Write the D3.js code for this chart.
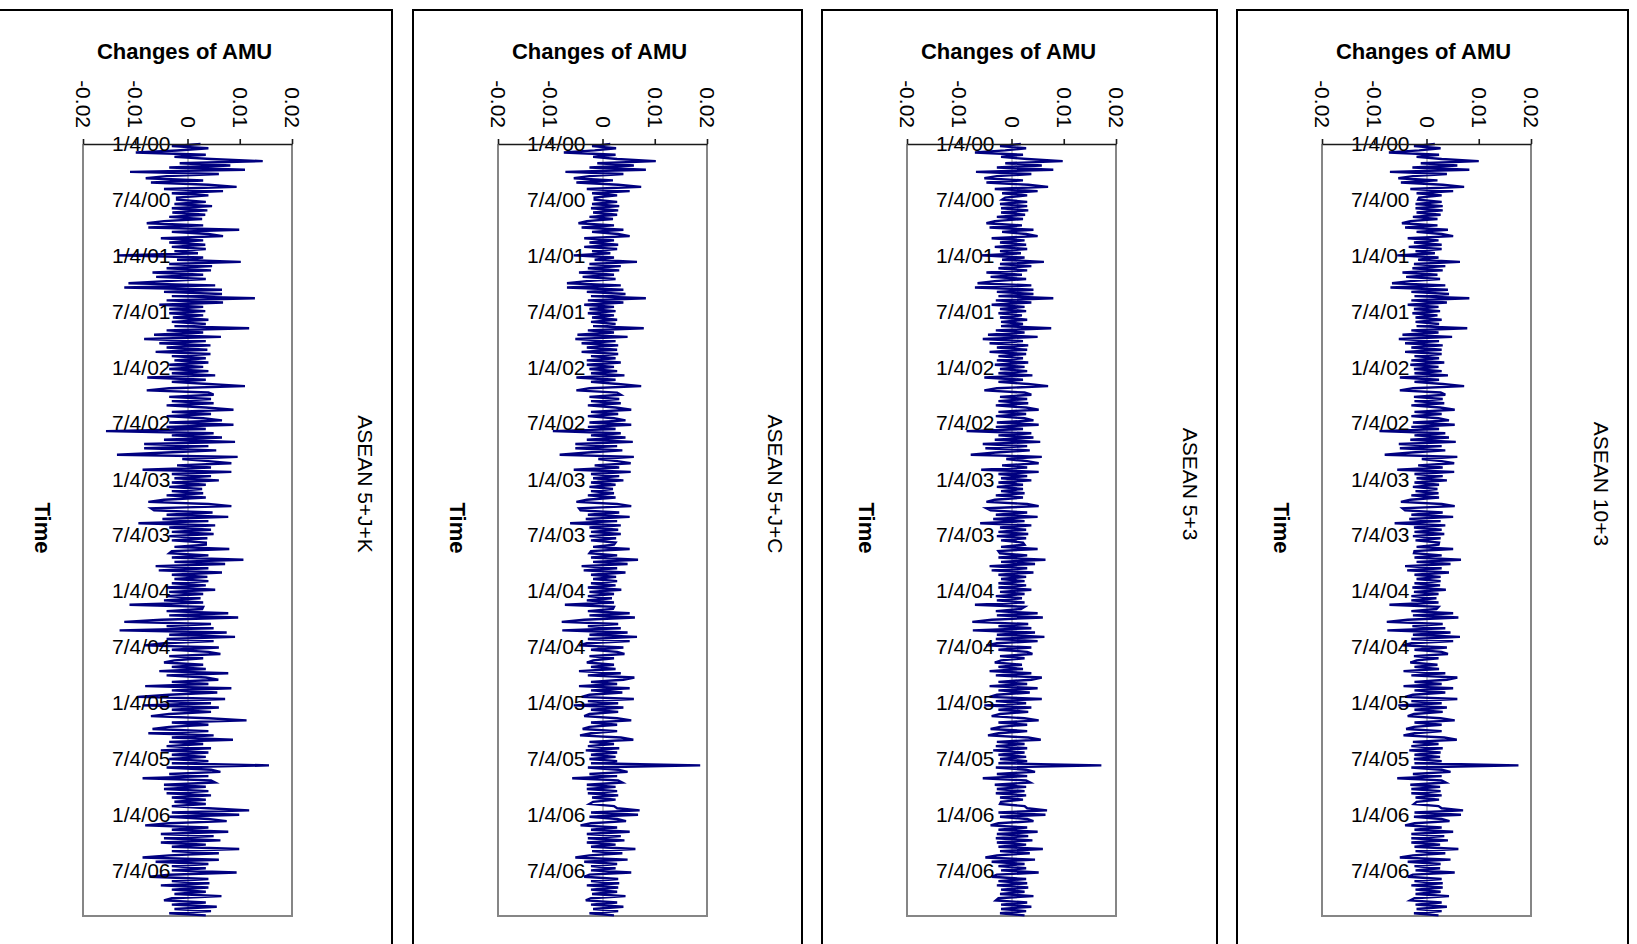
<!DOCTYPE html>
<html>
<head>
<meta charset="utf-8">
<script src="https://cdn.jsdelivr.net/npm/d3@7"></script>
<style>
  html, body { margin: 0; padding: 0; background: #ffffff; }
  svg { display: block; font-family: "Liberation Sans", Arial, sans-serif; }
</style>
</head>
<body>
<svg width="1637" height="944"></svg>
<script>
// Weekly changes of AMU, stored in units of 0.0001, one row per half-year
// (Jan-Jun / Jul-Dec), first point on Tuesday 1/4/00.
const amuJK = [
  25,-30,40,-20,-99,35,-25,45,144,-15,82,-35,110,-110,60,-40,-80,30,-70,40,94,-45,68,-30,40,-20,
  -20,35,-25,47,-30,38,-29,34,-35,28,-45,-78,30,-75,99,-30,40,68,-51,30,-35,34,-30,35,-25,20,
  -133,30,-20,102,-35,47,-40,45,-67,30,-60,35,-40,-113,53,-121,66,-45,66,-30,129,-40,68,-54,30,-35,
  34,-35,30,-28,40,-30,35,-25,118,-40,30,-64,64,-83,35,-54,44,-40,38,-61,44,-30,35,-25,40,-35,
  30,-35,40,-30,53,-77,35,-30,40,110,-35,-78,40,50,-35,45,-30,50,-40,35,88,-30,45,-40,30,66,
  -35,88,-40,35,-156,50,-30,66,-45,91,-83,40,-83,55,-40,-135,96,-10,40,84,-20,45,-86,84,-30,45,
  -25,60,-30,35,-35,28,-30,30,-40,35,-45,-75,40,84,-70,-64,48,-40,78,-48,40,-94,53,-35,45,-30,
  50,-35,38,-30,35,35,-25,80,-30,-35,40,-30,107,-25,72,-61,40,-55,66,-30,38,-25,40,-30,35,-40,
  53,-35,30,-40,25,-45,30,-111,30,28,-40,78,-35,97,-50,-121,45,-40,50,-130,75,-35,91,-40,50,-45,
  -83,60,-30,40,63,-35,30,-25,-45,30,-30,35,-54,78,-40,35,59,-30,40,-81,84,-30,57,-35,-96,72,
  -40,45,-86,60,-30,45,-35,-70,40,113,-30,40,-35,-67,40,-75,50,-30,87,-35,30,-40,45,-51,40,-30,
  35,-35,40,-30,156,-40,45,63,-35,40,-86,45,53,-45,35,-45,40,-40,45,-30,35,-25,35,-30,40,118,
  -30,99,-35,40,75,-35,-81,40,-30,78,-51,50,-45,63,-51,35,-30,99,-30,60,-35,-86,60,-61,40,-30,
  35,-30,94,-35,-73,40,-30,42,-51,40,-30,35,-25,65,-30,-45,35,-30,56,-25,45,-35,35
]

const amuJC = [
  15,-20,26,-15,-74,25,-18,28,102,-10,60,-25,83,-71,40,-25,-55,20,-50,30,74,-30,52,-20,28,-15,
  -15,28,-20,32,-22,30,-18,28,-25,20,-30,-46,22,-40,40,-20,30,52,-35,22,-25,30,-35,28,-20,15,
  -55,22,-15,66,-25,35,-28,32,-45,22,-38,25,-30,-68,35,-68,40,-30,44,-22,83,-28,40,-35,22,-25,
  25,-28,22,-20,28,-22,25,-18,79,-28,22,-48,48,-52,25,-40,30,-30,28,-40,30,-22,25,-30,35,-30,
  22,-25,28,-22,42,-50,25,-22,30,74,-25,-50,28,35,-25,32,-22,35,-28,25,55,-22,30,-28,22,44,
  -25,55,-28,25,-95,35,-22,44,-30,58,-52,28,-52,38,-28,-82,60,-8,28,54,-15,32,-55,54,-22,32,
  -18,40,-22,25,-25,20,-22,22,-28,25,-30,-50,28,55,-45,-42,32,-28,52,-32,28,-62,35,-25,30,-22,
  35,-25,26,-22,25,22,-18,52,-22,-25,28,-22,68,-18,48,-40,28,-36,44,-22,26,-18,28,-22,25,-28,
  36,-25,22,-28,18,-30,22,-72,22,20,-28,52,-25,62,-35,-78,30,-28,35,-77,48,-25,66,-28,52,-30,
  -45,40,-22,28,42,-25,22,-18,-30,22,-22,25,-45,35,-28,61,40,-22,28,-45,52,-22,38,-25,-40,60,
  -28,30,-55,40,-22,30,-25,-35,28,55,-22,28,-25,-38,28,-22,-43,35,59,-25,22,-28,32,-32,28,-22,
  25,-25,28,-22,187,-28,30,48,-25,28,-58,30,38,-30,25,-30,28,-28,30,-20,25,-18,-25,22,28,71,
  -22,68,-25,28,45,-22,-42,28,-22,52,-30,35,-28,42,-30,25,-22,63,-20,38,-25,-52,48,-35,28,-22,
  25,-22,55,-25,-35,30,-22,32,-30,30,-22,28,-20,44,-22,-32,28,-22,40,-18,30,-25,22
]

const amu53 = [
  18,-22,28,-12,-70,22,-20,30,98,-12,58,-28,80,-68,38,-28,-52,22,-48,32,70,-32,50,-18,30,-12,
  -18,30,-22,30,-20,32,-20,26,-28,22,-32,-48,20,-42,42,-18,28,50,-38,25,-22,28,-32,30,-22,18,
  -58,25,-18,62,-22,38,-25,30,-48,20,-40,28,-32,-65,38,-70,42,-28,42,-25,80,-30,38,-38,25,-22,
  28,-25,20,-22,30,-20,22,-20,76,-30,25,-45,50,-55,22,-42,32,-28,30,-42,28,-25,22,-28,32,-32,
  25,-22,30,-25,40,-52,22,-25,32,70,-28,-52,25,38,-22,30,-25,32,-30,28,52,-25,28,-30,25,42,
  -28,52,-30,22,-86,38,-25,42,-32,55,-55,30,-50,35,-30,-78,58,-10,30,52,-18,30,-58,52,-25,30,
  -20,38,-25,22,-28,22,-20,25,-30,22,-32,-48,30,52,-48,-40,30,-30,50,-35,25,-60,38,-22,28,-25,
  32,-28,28,-20,22,25,-20,50,-25,-22,30,-25,65,-20,45,-42,30,-38,42,-25,28,-20,25,-25,28,-25,
  38,-22,25,-30,20,-28,25,-70,25,18,-30,50,-28,60,-38,-75,32,-25,38,-74,45,-28,63,-30,50,-28,
  -48,38,-25,30,40,-22,25,-20,-32,20,-25,22,-42,38,-30,58,38,-25,30,-42,50,-25,35,-28,-42,58,
  -30,28,-52,38,-25,32,-22,-38,25,52,-25,30,-22,-40,30,-25,-45,32,56,-28,25,-30,30,-35,25,-25,
  28,-22,30,-25,172,-30,28,45,-28,30,-55,28,36,-32,28,-28,25,-30,28,-22,22,-20,-22,25,30,68,
  -25,65,-22,30,42,-25,-40,30,-25,50,-28,32,-30,40,-28,28,-25,60,-22,35,-28,-50,45,-38,25,-25,
  28,-20,52,-28,-38,28,-25,30,-28,32,-20,25,-22,42,-25,-30,30,-20,38,-20,28,-22,25
]

const amu103 = [
  16,-24,27,-14,-72,24,-19,29,100,-11,59,-27,82,-70,39,-26,-54,21,-49,31,72,-31,51,-19,29,-14,
  -16,29,-21,31,-21,31,-19,27,-26,21,-31,-47,21,-41,41,-19,29,51,-36,23,-24,29,-34,29,-21,16,
  -56,23,-16,64,-24,36,-27,31,-46,21,-39,26,-31,-66,36,-69,41,-29,43,-23,82,-29,39,-36,23,-24,
  26,-27,21,-21,29,-21,24,-19,78,-29,23,-46,49,-53,24,-41,31,-29,29,-41,29,-23,24,-29,34,-31,
  23,-24,29,-23,41,-51,24,-23,31,72,-26,-51,27,36,-24,31,-23,34,-29,26,54,-23,29,-29,23,43,
  -26,54,-29,24,-90,36,-23,43,-31,56,-53,29,-51,36,-29,-80,59,-9,29,53,-16,31,-56,53,-23,31,
  -19,39,-23,24,-26,21,-21,23,-29,24,-31,-49,29,54,-46,-41,31,-29,51,-33,27,-61,36,-24,29,-23,
  34,-26,27,-21,24,23,-19,51,-23,-24,29,-23,66,-19,46,-41,29,-37,43,-23,27,-19,27,-23,26,-27,
  37,-24,23,-29,19,-29,23,-71,23,19,-29,51,-26,61,-36,-76,31,-27,36,-75,46,-26,64,-29,51,-29,
  -46,39,-23,29,41,-24,23,-19,-31,21,-23,24,-44,36,-29,59,39,-23,29,-44,51,-23,36,-26,-41,59,
  -29,29,-54,39,-23,31,-24,-36,27,54,-23,29,-24,-39,29,-23,-44,34,58,-26,23,-29,31,-33,27,-23,
  26,-24,29,-23,176,-29,29,46,-26,29,-56,29,37,-31,26,-29,27,-29,29,-21,24,-19,-24,23,29,70,
  -23,66,-24,29,44,-23,-41,29,-23,51,-29,34,-29,41,-29,26,-23,61,-21,36,-26,-51,46,-36,27,-23,
  26,-21,54,-26,-36,29,-23,31,-29,31,-21,27,-21,43,-23,-31,29,-21,39,-19,29,-24,23
]

const seriesNames = ["ASEAN 5+J+K", "ASEAN 5+J+C", "ASEAN 5+3", "ASEAN 10+3"]
const seriesValues = [amuJK, amuJC, amu53, amu103]
const valueTicks = [-0.02, -0.01, 0, 0.01, 0.02]
const dateLabels = ["1/4/00", "7/4/00", "1/4/01", "7/4/01", "1/4/02", "7/4/02", "1/4/03",
  "7/4/03", "1/4/04", "7/4/04", "1/4/05", "7/4/05", "1/4/06", "7/4/06"]

const unit = 0.0001
const startDate = new Date(2000, 0, 4)
const endDate = new Date(2006, 10, 30)
const weeks = d3.timeTuesday.range(startDate, new Date(2006, 11, 1))
const parseDate = d3.timeParse("%m/%d/%y")
const formatDate = d3.timeFormat("%-m/%-d/%y")

// Layout
const panelLeft = [-2, 413, 822, 1237]
const panelWidth = [394, 389, 395, 391]
const panelTop = 10
const panelBottom = 962
const plotOffset = 85
const plotWidth = 209
const plotTop = 144
const plotBottom = 916
const lineColor = "#000080"
const borderGray = "#868686"

const svg = d3.select("svg")

const y = d3.scaleTime()
    .domain([startDate, endDate])
    .range([plotTop, plotBottom])

seriesNames.forEach((name, i) => {
    const left = panelLeft[i]
    const right = left + panelWidth[i]
    const plotLeft = left + plotOffset
    const g = svg.append("g")

    g.append("rect")
        .attr("x", left)
        .attr("y", panelTop)
        .attr("width", panelWidth[i])
        .attr("height", panelBottom - panelTop)
        .attr("fill", "#ffffff")
        .attr("stroke", "#000000")
        .attr("stroke-width", 2)

    const x = d3.scaleLinear()
        .domain([-0.02, 0.02])
        .range([plotLeft, plotLeft + plotWidth])

    // plot area border (left, right, bottom)
    g.append("path")
        .attr("d", `M${plotLeft},${plotTop}V${plotBottom}H${plotLeft + plotWidth}V${plotTop}`)
        .attr("fill", "none")
        .attr("stroke", borderGray)
        .attr("stroke-width", 2)

    // category axis at zero (line and ticks only)
    const catAxis = g.append("g")
        .attr("transform", `translate(${x(0)},0)`)
        .call(d3.axisLeft(y)
            .tickValues(dateLabels.map(parseDate))
            .tickSize(5)
            .tickSizeOuter(0)
            .tickFormat(""))
    catAxis.selectAll("path, line").attr("stroke", borderGray)

    const points = seriesValues[i].map((v, k) => ({ date: weeks[k], value: v * unit }))

    const line = d3.line()
        .x(d => x(d.value))
        .y(d => y(d.date))

    g.append("path")
        .datum(points)
        .attr("d", line)
        .attr("fill", "none")
        .attr("stroke", lineColor)
        .attr("stroke-width", 2.4)
        .attr("stroke-linejoin", "miter")

    // date labels drawn over the line
    const labelAxis = g.append("g")
        .attr("transform", `translate(${x(0)},0)`)
        .call(d3.axisLeft(y)
            .tickValues(dateLabels.map(parseDate))
            .tickSize(0)
            .tickPadding(17)
            .tickFormat(formatDate))
    labelAxis.select(".domain").remove()
    labelAxis.selectAll("text")
        .attr("font-size", 21)
        .attr("font-family", "Liberation Sans, Arial, sans-serif")
        .attr("fill", "#000000")

    // value axis on top
    const topAxis = g.append("g")
        .attr("transform", `translate(0,${plotTop})`)
        .call(d3.axisTop(x)
            .tickValues(valueTicks)
            .tickSize(5)
            .tickSizeOuter(0)
            .tickFormat(d => String(d)))
    topAxis.selectAll("path, line")
        .attr("stroke", "#1a1a1a")
        .attr("stroke-width", 1.6)
    topAxis.selectAll("text")
        .attr("transform", "rotate(90)")
        .attr("x", -16)
        .attr("y", 0)
        .attr("dy", "0.35em")
        .attr("text-anchor", "end")
        .attr("font-size", 21)
        .attr("font-family", "Liberation Sans, Arial, sans-serif")
        .attr("fill", "#000000")

    g.append("text")
        .attr("x", plotLeft + plotWidth / 2 - 3)
        .attr("y", 59)
        .attr("text-anchor", "middle")
        .attr("font-size", 22)
        .attr("font-weight", "bold")
        .text("Changes of AMU")

    g.append("text")
        .attr("transform", `translate(${left + 45},${(plotTop + plotBottom) / 2 - 2}) rotate(90)`)
        .attr("text-anchor", "middle")
        .attr("dy", "0.35em")
        .attr("font-size", 22)
        .attr("font-weight", "bold")
        .text("Time")

    g.append("text")
        .attr("transform", `translate(${right - 27},484) rotate(90)`)
        .attr("text-anchor", "middle")
        .attr("dy", "0.35em")
        .attr("font-size", 21)
        .text(name)
})
</script>
</body>
</html>
